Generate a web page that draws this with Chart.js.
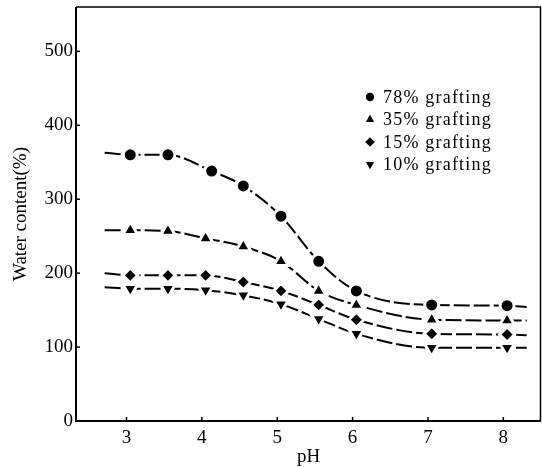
<!DOCTYPE html>
<html lang="en">
<head>
  <meta charset="UTF-8" />
  <title>Water content vs pH</title>
  <style>
    html, body { margin: 0; padding: 0; background: #fff; overflow: hidden; }
    .chart-box { width: 542px; height: 467px; position: relative; }
  </style>
</head>
<body>
  <div class="chart-box"><canvas id="waterChart"></canvas></div>

  <script src="https://cdn.jsdelivr.net/npm/chart.js"></script>
  <script>
    // data
    const phTicks = [3, 4, 5, 6, 7, 8];
    const waterTicks = [0, 100, 200, 300, 400, 500];
    const seriesNames = ['78% grafting', '35% grafting', '15% grafting', '10% grafting'];
    const phPoints = [3.05, 3.55, 4.05, 4.55, 5.05, 5.55, 6.05, 7.05, 8.05];
    const phPoints78 = [3.05, 3.55, 4.13, 4.55, 5.05, 5.55, 6.05, 7.05, 8.05];
    const graft78 = [360, 360, 338, 318, 277, 216, 176, 157, 156];
    const graft35 = [258, 257, 247, 236, 216, 176, 157, 137, 136];
    const graft15 = [197, 197, 197, 188, 176, 157, 137, 118, 117];
    const graft10 = [179, 179, 177, 170, 158, 138, 118, 99, 99];
    // fitted curves run a bit past the first and last measurement
    const curveFromPh = 2.71;
    const curveToPh = 8.31;
    const curveStart = [363, 258, 200, 181];
    const curveEnd = [154, 136, 116, 99];

    const SERIF = '"Liberation Serif", "DejaVu Serif", serif';
    const markerStyles = ['circle', 'triangle', 'rectRot', 'triangle'];
    const markerRotation = [0, 0, 0, 180];
    const markerRadius = [7, 8.5, 7.5, 8.5];
    const legendRadius = [4.2, 4.8, 4.8, 4.8];

    const allY = [graft78, graft35, graft15, graft10];
    const allX = [phPoints78, phPoints, phPoints, phPoints];

    const datasets = [];
    allY.forEach((vals, i) => {
      const xs = allX[i];
      const curve = [{ x: curveFromPh, y: curveStart[i] }]
        .concat(vals.map((v, j) => ({ x: xs[j], y: v })))
        .concat([{ x: curveToPh, y: curveEnd[i] }]);
      datasets.push({
        label: seriesNames[i] + ' curve',
        data: curve,
        showLine: true,
        borderColor: '#000',
        borderWidth: 2,
        borderDash: [16, 4],
        cubicInterpolationMode: 'monotone',
        pointRadius: 0,
        fill: false,
        order: 2
      });
      datasets.push({
        label: seriesNames[i],
        data: vals.map((v, j) => ({ x: xs[j], y: v })),
        showLine: false,
        pointStyle: markerStyles[i],
        pointRotation: markerRotation[i],
        pointRadius: markerRadius[i],
        backgroundColor: '#000',
        pointBackgroundColor: '#000',
        pointBorderColor: '#fff',
        pointBorderWidth: 3,
        order: 1
      });
    });

    // box frame + short inward tick marks
    const framePlugin = {
      id: 'frame',
      beforeDatasetsDraw(chart) {
        const { ctx, chartArea: a, scales } = chart;
        ctx.save();
        ctx.strokeStyle = '#000';
        ctx.lineWidth = 1.5;
        ctx.beginPath();
        ctx.moveTo(a.left, a.top); ctx.lineTo(a.right - 0.5, a.top); ctx.lineTo(a.right - 0.5, a.bottom);
        ctx.stroke();
        ctx.lineWidth = 2;
        ctx.beginPath();
        ctx.moveTo(a.left, a.top); ctx.lineTo(a.left, a.bottom); ctx.lineTo(a.right, a.bottom);
        ctx.stroke();
        ctx.lineWidth = 1.5;
        phTicks.forEach(v => {
          const px = scales.x.getPixelForValue(v);
          ctx.beginPath(); ctx.moveTo(px, a.bottom); ctx.lineTo(px, a.bottom - 4); ctx.stroke();
        });
        waterTicks.forEach(v => {
          const py = scales.y.getPixelForValue(v);
          ctx.beginPath(); ctx.moveTo(a.left, py); ctx.lineTo(a.left + 4, py); ctx.stroke();
        });
        ctx.restore();
      }
    };

    const legendPlugin = {
      id: 'cornerLegend',
      afterDraw(chart) {
        const { ctx, chartArea } = chart;
        const x0 = chartArea.right - 171;
        const y0 = chartArea.top + 90;
        ctx.save();
        ctx.fillStyle = '#000';
        ctx.font = '18px ' + SERIF;
        ctx.letterSpacing = '1.2px';
        ctx.textBaseline = 'middle';
        seriesNames.forEach((name, i) => {
          const y = y0 + i * 22.5;
          Chart.helpers.drawPoint(ctx, {
            pointStyle: markerStyles[i],
            radius: legendRadius[i],
            rotation: markerRotation[i],
            borderWidth: 0
          }, x0, y);
          ctx.fillText(name, x0 + 13, y + 1);
        });
        ctx.restore();
      }
    };

    const ctx = document.getElementById('waterChart').getContext('2d');
    new Chart(ctx, {
      type: 'scatter',
      data: { datasets: datasets },
      options: {
        responsive: true,
        maintainAspectRatio: false,
        animation: false,
        devicePixelRatio: 1,
        layout: { autoPadding: false, padding: { top: 7, right: 1, left: 0, bottom: 0 } },
        scales: {
          x: {
            type: 'linear',
            min: 2.33,
            max: 8.5,
            afterBuildTicks: s => { s.ticks = phTicks.map(v => ({ value: v })); },
            afterFit: s => { s.height = 46; s.paddingLeft = 0; s.paddingRight = 0; },
            grid: { display: false, drawTicks: false },
            border: { display: false },
            ticks: { color: '#000', font: { family: SERIF, size: 19 }, padding: 6, maxRotation: 0, autoSkip: false },
            title: { display: true, text: 'pH', color: '#000', font: { family: SERIF, size: 19, lineHeight: 1 }, padding: { top: 0, bottom: 0 } }
          },
          y: {
            min: 0,
            max: 560,
            afterBuildTicks: s => { s.ticks = waterTicks.map(v => ({ value: v })); },
            afterFit: s => { s.width = 76; s.paddingTop = 0; s.paddingBottom = 0; },
            grid: { display: false, drawTicks: false },
            border: { display: false },
            ticks: { color: '#000', font: { family: SERIF, size: 19 }, padding: 3 },
            title: { display: true, text: 'Water content(%)', color: '#000', font: { family: SERIF, size: 19, lineHeight: 1.2 }, padding: { top: 10, bottom: 0 } }
          }
        },
        plugins: {
          legend: { display: false },
          tooltip: { enabled: false }
        }
      },
      plugins: [framePlugin, legendPlugin]
    });
  </script>
</body>
</html>
